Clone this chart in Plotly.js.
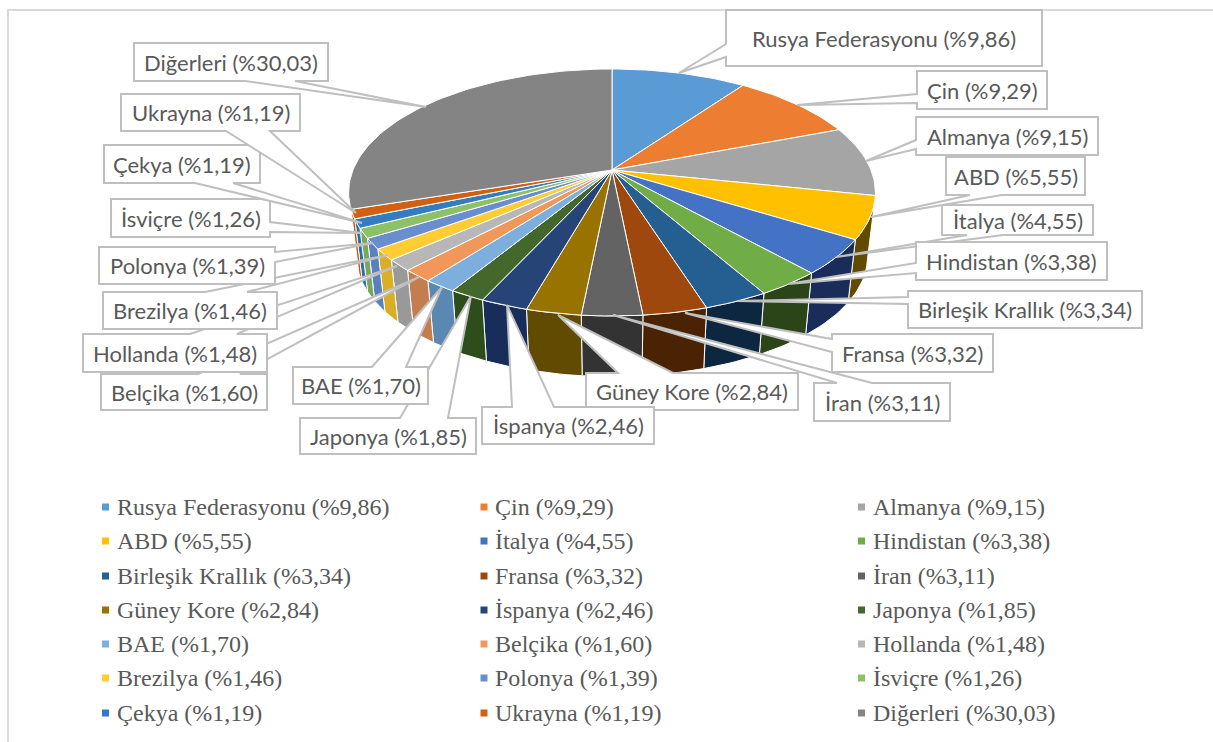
<!DOCTYPE html>
<html>
<head>
<meta charset="utf-8">
<script src="https://cdn.plot.ly/plotly-3.0.1.min.js"></script>
<style>html,body{margin:0;padding:0;background:#fff;overflow:hidden}</style>
</head>
<body>
<div id="chart" style="width:1213px;height:742px"></div>
<script>
const categories = ["Rusya Federasyonu","Çin","Almanya","ABD","İtalya","Hindistan","Birleşik Krallık","Fransa","İran","Güney Kore","İspanya","Japonya","BAE","Belçika","Hollanda","Brezilya","Polonya","İsviçre","Çekya","Ukrayna","Diğerleri"];
const shares = [9.86,9.29,9.15,5.55,4.55,3.38,3.34,3.32,3.11,2.84,2.46,1.85,1.70,1.60,1.48,1.46,1.39,1.26,1.19,1.19,30.03];
const sliceColors = ["#5B9BD5","#ED7D31","#A5A5A5","#FFC000","#4472C4","#70AD47","#255E91","#9E480E","#636363","#997300","#264478","#43682B","#7CAFDD","#F1975A","#B7B7B7","#FFCD33","#698ED0","#8CC168","#327DC2","#D26012","#848484"];
const wallColors = [null,null,null,"#614B00","#1A2D5A","#2B4518","#0E2740","#4A2204","#333333","#614B00","#182D59","#2D4D1B","#5B88B3","#C47D4F","#999999","#DBAE26","#5A80BF","#78A85E","#2A6FAB","#C2570C",null];

// callouts, in series order: [left, top, right, bottom], pointer side, two base offsets, tip
const calloutBoxes = [[726,10,1042,66],[917,71,1047,109],[916,117,1098,155],[946,157,1085,195],[942,205,1093,235],[916,242,1107,280],[908,291,1142,328],[832,334,993,372],[814,383,950,421],[586,373,798,410],[482,407,654,444],[300,418,476,454],[293,367,428,404],[101,374,267,410],[83,334,267,372],[103,292,277,329],[99,247,275,284],[111,199,270,237],[104,145,260,183],[121,94,300,131],[134,43,328,81]];
const calloutSides = ["L","L","L","B","B","L","L","L","T","T","T","T","T","T","T","T","R","R","B","B","B"];
const calloutBases = [[44,57],[94,103],[140,149],[970,1002],[967,1003],[263,273],[297,304],[339,352],[837,872],[618,673],[512,554],[400,448],[372,406],[198,240],[190,237],[205,247],[252,262],[222,232],[195,233],[226,270],[245,295]];
const calloutTips = [[679,73],[797,105],[866,161],[871,217],[836,257],[788,284],[737,301],[685,313],[613,315],[558,315],[507,305],[471,296],[442,287],[419,277],[397,266],[388,255],[373,243],[362,233],[362,223],[356,213],[426,107]];

// legend grid
const legendColumns = [105.5,484,861.5];
const legendRows = [507,541,576,610,644,678,713];

// disc projection (perspective view of the pie)
const CX=612, CY=170, RX=259, RY=119.4, PERSP=0.182, WALL_SCALE=0.97, WALL_DROP=65;
function rim(deg){
  const t=deg*Math.PI/180, u=Math.sin(t), v=Math.cos(t), d=1+PERSP*v;
  return [RX*u/d, -RY*v/d];
}
function arc(a0,a1){
  const n=Math.max(2,Math.ceil(Math.abs(a1-a0)/1.5)), out=[];
  for(let i=0;i<=n;i++) out.push(rim(a0+(a1-a0)*i/n));
  return out;
}
const total = shares.reduce((a,b)=>a+b,0);
const traces=[];
let cum=0; const spans=shares.map(s=>{const a=cum/total*360; cum+=s; return [a,cum/total*360];});

// side walls, drawn first so the disc covers them
spans.forEach((sp,i)=>{
  if(!wallColors[i]) return;
  const top=arc(sp[0],sp[1]), bot=arc(sp[1],sp[0]);
  const xs=top.map(p=>CX+p[0]).concat(bot.map(p=>CX+p[0]*WALL_SCALE));
  const ys=top.map(p=>CY+p[1]).concat(bot.map(p=>CY+WALL_DROP+p[1]*WALL_SCALE));
  xs.push(xs[0]); ys.push(ys[0]);
  traces.push({type:"scatter",mode:"lines",x:xs,y:ys,fill:"toself",fillcolor:wallColors[i],
    line:{color:"#ffffff",width:1},hoverinfo:"skip",showlegend:false});
});
// top surface
spans.forEach((sp,i)=>{
  const a=arc(sp[0],sp[1]);
  const xs=[CX].concat(a.map(p=>CX+p[0]),[CX]);
  const ys=[CY].concat(a.map(p=>CY+p[1]),[CY]);
  traces.push({type:"scatter",mode:"lines",x:xs,y:ys,fill:"toself",fillcolor:sliceColors[i],
    line:{color:"#ffffff",width:1},hoverinfo:"text",text:categories[i],showlegend:false});
});
// legend markers
const labelOf=i=>categories[i]+" (%"+shares[i].toFixed(2).replace(".",",")+")";
const lx=[],ly=[];
categories.forEach((c,i)=>{lx.push(legendColumns[i%3]);ly.push(legendRows[Math.floor(i/3)]);});
traces.push({type:"scatter",mode:"markers",x:lx,y:ly,marker:{symbol:"square",size:7,color:sliceColors,line:{width:0}},hoverinfo:"skip",showlegend:false});

const shapes=[];
shapes.push({type:"path",path:"M8,742 L8,10 L1213,10",line:{color:"#D9D9D9",width:2},layer:"below"});
calloutBoxes.forEach((b,i)=>{
  const [l,t,r,bt]=b, s=calloutSides[i], c=calloutBases[i], tip=calloutTips[i];
  let p;
  const T=`${tip[0]},${tip[1]}`;
  if(s==="T") p=`M${l},${t} L${c[0]},${t} L${T} L${c[1]},${t} L${r},${t} L${r},${bt} L${l},${bt} Z`;
  if(s==="B") p=`M${l},${t} L${r},${t} L${r},${bt} L${c[1]},${bt} L${T} L${c[0]},${bt} L${l},${bt} Z`;
  if(s==="L") p=`M${l},${t} L${r},${t} L${r},${bt} L${l},${bt} L${l},${c[1]} L${T} L${l},${c[0]} Z`;
  if(s==="R") p=`M${l},${t} L${r},${t} L${r},${c[0]} L${T} L${r},${c[1]} L${r},${bt} L${l},${bt} Z`;
  shapes.push({type:"path",path:p,xref:"x",yref:"y",fillcolor:"#ffffff",line:{color:"#BFBFBF",width:2},layer:"above"});
});

const annotations=[];
categories.forEach((c,i)=>{
  const b=calloutBoxes[i];
  annotations.push({x:(b[0]+b[2])/2,y:(b[1]+b[3])/2,xref:"x",yref:"y",text:labelOf(i),showarrow:false,
    xanchor:"center",yanchor:"middle",font:{family:"Lato, sans-serif",size:22,color:"#595959"}});
  annotations.push({x:lx[i]+10,y:ly[i],xref:"x",yref:"y",text:labelOf(i),showarrow:false,xanchor:"left",yanchor:"middle",
    font:{family:"'Liberation Serif', serif",size:24,color:"#595959"},borderpad:0});
});

Plotly.newPlot("chart",traces,{
  width:1213,height:742,margin:{l:0,r:0,t:0,b:0},paper_bgcolor:"#fff",plot_bgcolor:"#fff",
  xaxis:{range:[0,1213],visible:false,fixedrange:true},
  yaxis:{range:[742,0],visible:false,fixedrange:true},
  shapes:shapes,annotations:annotations,showlegend:false
},{displayModeBar:false,staticPlot:false});
</script>
</body>
</html>
